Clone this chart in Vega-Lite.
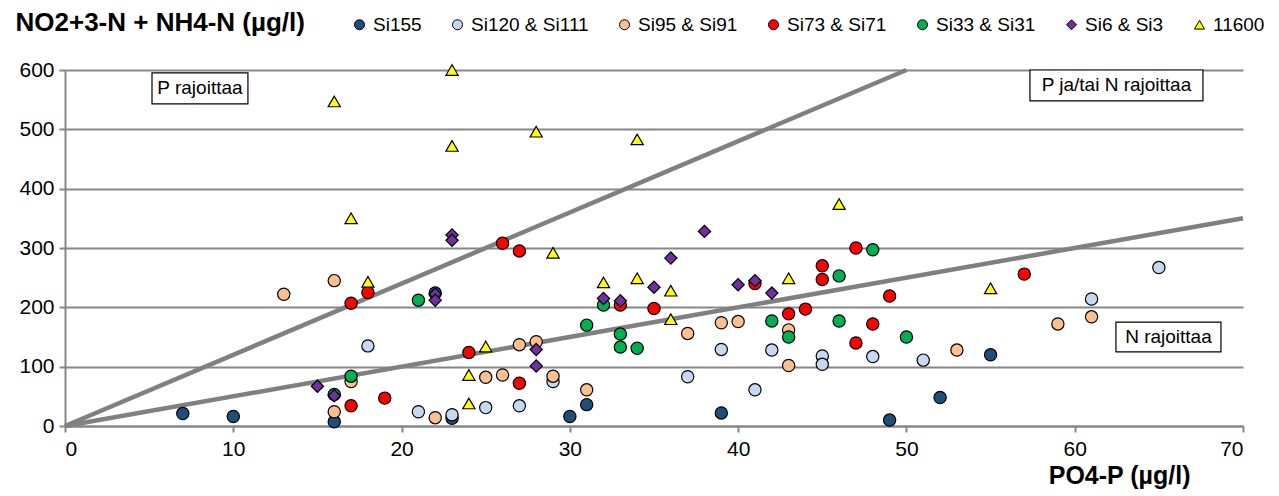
{
  "$schema": "https://vega.github.io/schema/vega-lite/v6.json",
  "width": 1178,
  "height": 356,
  "autosize": {"type": "none"},
  "padding": {"left": 65, "top": 70, "right": 36, "bottom": 70},
  "background": "white",
  "config": {
    "view": {"stroke": null},
    "font": "Liberation Sans",
    "axis": {
      "gridColor": "#878787", "gridWidth": 2, "gridOpacity": 1,
      "domainColor": "#878787", "domainWidth": 2,
      "tickColor": "#878787", "tickWidth": 2, "tickSize": 6,
      "labelColor": "#000000", "labelFont": "Liberation Sans", "labelFontSize": 21,
      "titleColor": "#000000", "titleFont": "Liberation Sans", "titleFontSize": 26, "titleFontWeight": "bold"
    }
  },
  "datasets": {
    "pts": [
      {"s": "Si155", "x": 7, "y": 21}, {"s": "Si155", "x": 10, "y": 16}, {"s": "Si155", "x": 16, "y": 7}, {"s": "Si155", "x": 22, "y": 224}, {"s": "Si155", "x": 23, "y": 13}, {"s": "Si155", "x": 30, "y": 16}, {"s": "Si155", "x": 31, "y": 36}, {"s": "Si155", "x": 39, "y": 22}, {"s": "Si155", "x": 49, "y": 10}, {"s": "Si155", "x": 52, "y": 48}, {"s": "Si155", "x": 55, "y": 120},
      {"s": "Si120 & Si111", "x": 18, "y": 135}, {"s": "Si120 & Si111", "x": 21, "y": 24}, {"s": "Si120 & Si111", "x": 23, "y": 19}, {"s": "Si120 & Si111", "x": 25, "y": 31}, {"s": "Si120 & Si111", "x": 27, "y": 34}, {"s": "Si120 & Si111", "x": 29, "y": 75}, {"s": "Si120 & Si111", "x": 37, "y": 83}, {"s": "Si120 & Si111", "x": 39, "y": 129}, {"s": "Si120 & Si111", "x": 41, "y": 61}, {"s": "Si120 & Si111", "x": 42, "y": 128}, {"s": "Si120 & Si111", "x": 45, "y": 118}, {"s": "Si120 & Si111", "x": 45, "y": 104}, {"s": "Si120 & Si111", "x": 48, "y": 117}, {"s": "Si120 & Si111", "x": 51, "y": 111}, {"s": "Si120 & Si111", "x": 61, "y": 214}, {"s": "Si120 & Si111", "x": 65, "y": 267},
      {"s": "Si95 & Si91", "x": 13, "y": 222}, {"s": "Si95 & Si91", "x": 16, "y": 245}, {"s": "Si95 & Si91", "x": 16, "y": 24}, {"s": "Si95 & Si91", "x": 17, "y": 75}, {"s": "Si95 & Si91", "x": 22, "y": 14}, {"s": "Si95 & Si91", "x": 25, "y": 82}, {"s": "Si95 & Si91", "x": 26, "y": 86}, {"s": "Si95 & Si91", "x": 27, "y": 137}, {"s": "Si95 & Si91", "x": 28, "y": 142}, {"s": "Si95 & Si91", "x": 29, "y": 84}, {"s": "Si95 & Si91", "x": 31, "y": 61}, {"s": "Si95 & Si91", "x": 37, "y": 156}, {"s": "Si95 & Si91", "x": 39, "y": 174}, {"s": "Si95 & Si91", "x": 40, "y": 176}, {"s": "Si95 & Si91", "x": 43, "y": 162}, {"s": "Si95 & Si91", "x": 43, "y": 102}, {"s": "Si95 & Si91", "x": 53, "y": 128}, {"s": "Si95 & Si91", "x": 59, "y": 172}, {"s": "Si95 & Si91", "x": 61, "y": 184},
      {"s": "Si73 & Si71", "x": 17, "y": 207}, {"s": "Si73 & Si71", "x": 17, "y": 34}, {"s": "Si73 & Si71", "x": 18, "y": 225}, {"s": "Si73 & Si71", "x": 19, "y": 47}, {"s": "Si73 & Si71", "x": 24, "y": 124}, {"s": "Si73 & Si71", "x": 26, "y": 308}, {"s": "Si73 & Si71", "x": 27, "y": 295}, {"s": "Si73 & Si71", "x": 27, "y": 72}, {"s": "Si73 & Si71", "x": 33, "y": 204}, {"s": "Si73 & Si71", "x": 35, "y": 198}, {"s": "Si73 & Si71", "x": 41, "y": 240}, {"s": "Si73 & Si71", "x": 43, "y": 189}, {"s": "Si73 & Si71", "x": 44, "y": 197}, {"s": "Si73 & Si71", "x": 45, "y": 270}, {"s": "Si73 & Si71", "x": 45, "y": 247}, {"s": "Si73 & Si71", "x": 47, "y": 300}, {"s": "Si73 & Si71", "x": 47, "y": 140}, {"s": "Si73 & Si71", "x": 48, "y": 172}, {"s": "Si73 & Si71", "x": 49, "y": 219}, {"s": "Si73 & Si71", "x": 57, "y": 256},
      {"s": "Si33 & Si31", "x": 16, "y": 53}, {"s": "Si33 & Si31", "x": 17, "y": 84}, {"s": "Si33 & Si31", "x": 21, "y": 212}, {"s": "Si33 & Si31", "x": 31, "y": 170}, {"s": "Si33 & Si31", "x": 32, "y": 204}, {"s": "Si33 & Si31", "x": 33, "y": 155}, {"s": "Si33 & Si31", "x": 33, "y": 133}, {"s": "Si33 & Si31", "x": 34, "y": 131}, {"s": "Si33 & Si31", "x": 42, "y": 177}, {"s": "Si33 & Si31", "x": 43, "y": 150}, {"s": "Si33 & Si31", "x": 46, "y": 253}, {"s": "Si33 & Si31", "x": 46, "y": 177}, {"s": "Si33 & Si31", "x": 48, "y": 297}, {"s": "Si33 & Si31", "x": 50, "y": 150},
      {"s": "Si6 & Si3", "x": 15, "y": 67}, {"s": "Si6 & Si3", "x": 16, "y": 51}, {"s": "Si6 & Si3", "x": 22, "y": 222}, {"s": "Si6 & Si3", "x": 22, "y": 212}, {"s": "Si6 & Si3", "x": 23, "y": 322}, {"s": "Si6 & Si3", "x": 23, "y": 313}, {"s": "Si6 & Si3", "x": 28, "y": 129}, {"s": "Si6 & Si3", "x": 28, "y": 101}, {"s": "Si6 & Si3", "x": 32, "y": 215}, {"s": "Si6 & Si3", "x": 33, "y": 211}, {"s": "Si6 & Si3", "x": 35, "y": 234}, {"s": "Si6 & Si3", "x": 36, "y": 283}, {"s": "Si6 & Si3", "x": 38, "y": 328}, {"s": "Si6 & Si3", "x": 40, "y": 238}, {"s": "Si6 & Si3", "x": 41, "y": 245}, {"s": "Si6 & Si3", "x": 42, "y": 224},
      {"s": "11600", "x": 16, "y": 547}, {"s": "11600", "x": 17, "y": 350}, {"s": "11600", "x": 18, "y": 243}, {"s": "11600", "x": 23, "y": 600}, {"s": "11600", "x": 23, "y": 472}, {"s": "11600", "x": 24, "y": 86}, {"s": "11600", "x": 24, "y": 38}, {"s": "11600", "x": 25, "y": 134}, {"s": "11600", "x": 28, "y": 496}, {"s": "11600", "x": 29, "y": 292}, {"s": "11600", "x": 32, "y": 242}, {"s": "11600", "x": 34, "y": 483}, {"s": "11600", "x": 34, "y": 249}, {"s": "11600", "x": 36, "y": 228}, {"s": "11600", "x": 36, "y": 180}, {"s": "11600", "x": 43, "y": 249}, {"s": "11600", "x": 46, "y": 374}, {"s": "11600", "x": 55, "y": 232}
    ],
    "lines": [
      {"line": "a", "x": 0, "y": 0}, {"line": "a", "x": 50, "y": 600},
      {"line": "b", "x": 0, "y": 0}, {"line": "b", "x": 70, "y": 350}
    ],
    "notes": [
      {"label": "P rajoittaa", "x1": 5.17, "x2": 10.87, "y1": 543, "y2": 595, "tx": 8.02, "ty": 569},
      {"label": "P ja/tai N rajoittaa", "x1": 57.34, "x2": 67.62, "y1": 548, "y2": 600, "tx": 62.48, "ty": 574},
      {"label": "N rajoittaa", "x1": 62.45, "x2": 68.69, "y1": 125, "y2": 175, "tx": 65.57, "ty": 150}
    ]
  },
  "layer": [
    {
      "data": {"name": "lines"},
      "mark": {"type": "line", "color": "#808080", "strokeWidth": 4.5},
      "encoding": {
        "x": {"field": "x", "type": "quantitative", "scale": {"domain": [0, 70], "nice": false},
              "axis": {"values": [0, 10, 20, 30, 40, 50, 60, 70], "grid": false, "labelPadding": 6,
                       "title": "PO4-P (µg/l)", "titleFontSize": 25, "titleAnchor": null, "titleAlign": "right", "titleX": 1125, "titleY": 49, "titleBaseline": "middle"}},
        "y": {"field": "y", "type": "quantitative", "scale": {"domain": [0, 600], "nice": false},
              "axis": {"values": [0, 100, 200, 300, 400, 500, 600], "grid": true, "labelPadding": 5,
                       "title": "NO2+3-N + NH4-N (µg/l)", "titleAngle": 0, "titleAnchor": null, "titleAlign": "left",
                       "titleX": -50, "titleY": -48, "titleBaseline": "middle"}},
        "detail": {"field": "line"}
      }
    },
    {
      "data": {"name": "pts"},
      "mark": {"type": "point", "filled": true, "stroke": "#000000", "strokeWidth": 1.2, "opacity": 1, "size": 150},
      "encoding": {
        "x": {"field": "x", "type": "quantitative"},
        "y": {"field": "y", "type": "quantitative"},
        "color": {"field": "s", "type": "nominal",
          "scale": {"domain": ["Si155", "Si120 & Si111", "Si95 & Si91", "Si73 & Si71", "Si33 & Si31", "Si6 & Si3", "11600"],
                    "range": ["#1f4e79", "#c6d9f0", "#fac090", "#ff0000", "#00b050", "#7030a0", "#ffff00"]},
          "legend": {"title": null, "orient": "none", "legendX": 285, "legendY": -55, "direction": "horizontal", "columns": 7,
                     "columnPadding": 26, "labelFontSize": 19, "labelFont": "Liberation Sans", "labelColor": "#000000",
                     "symbolSize": 100, "symbolStrokeColor": "#000000", "symbolStrokeWidth": 1, "labelOffset": 4}},
        "shape": {"field": "s", "type": "nominal",
          "scale": {"domain": ["Si155", "Si120 & Si111", "Si95 & Si91", "Si73 & Si71", "Si33 & Si31", "Si6 & Si3", "11600"],
                    "range": ["circle", "circle", "circle", "circle", "circle", "diamond", "triangle-up"]}}
      }
    },
    {
      "data": {"name": "notes"},
      "mark": {"type": "rect", "fill": "white", "stroke": "#000000", "strokeWidth": 1.2},
      "encoding": {
        "x": {"field": "x1", "type": "quantitative"}, "x2": {"field": "x2"},
        "y": {"field": "y1", "type": "quantitative"}, "y2": {"field": "y2"}
      }
    },
    {
      "data": {"name": "notes"},
      "mark": {"type": "text", "fontSize": 19, "font": "Liberation Sans", "color": "#000000", "align": "center", "baseline": "middle"},
      "encoding": {
        "x": {"field": "tx", "type": "quantitative"},
        "y": {"field": "ty", "type": "quantitative"},
        "text": {"field": "label"}
      }
    }
  ]
}
